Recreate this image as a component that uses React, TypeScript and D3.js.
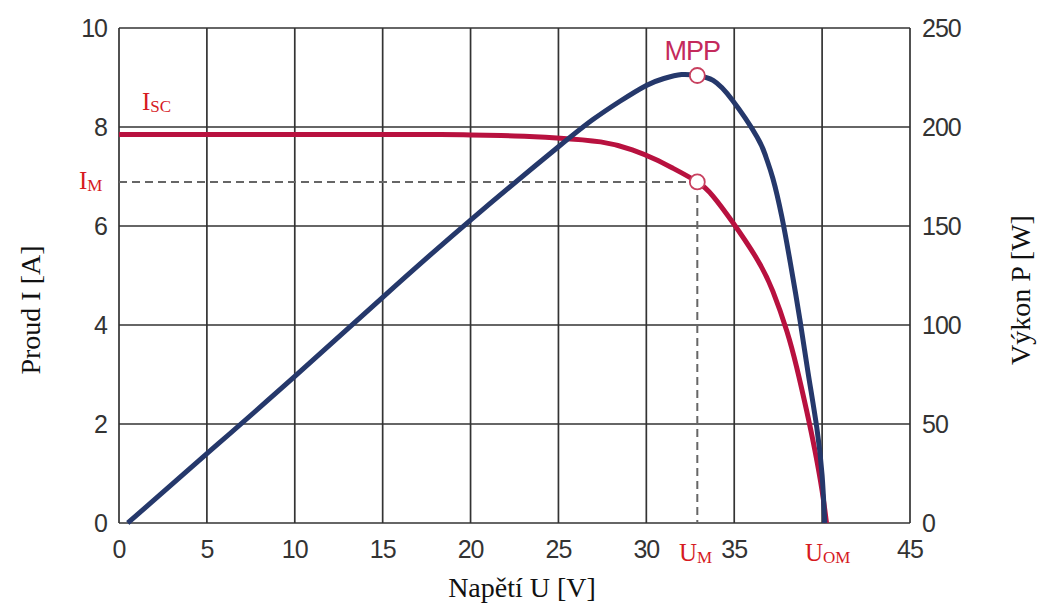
import React, { useRef, useEffect } from 'react';
import * as d3 from 'd3';

// I-U curve (current, A)
const voltageI = [0, 5, 10, 15, 18.3, 20, 22.5, 24.9, 27.4, 29.2, 30.5, 31.5, 32.9, 33.8, 34.9, 36.3, 37.2, 38.0, 38.55, 39.1, 39.6, 40.0, 40.25];
const current = [7.85, 7.85, 7.85, 7.85, 7.85, 7.84, 7.82, 7.78, 7.7, 7.54, 7.35, 7.17, 6.89, 6.6, 6.08, 5.33, 4.68, 3.87, 3.15, 2.3, 1.45, 0.65, 0];

// P-U curve (power, W)
const voltageP = [0.5, 5, 10, 15, 20, 25, 27, 28.5, 30, 31, 32, 32.9, 33.8, 34.9, 36.3, 36.8, 37.2, 37.7, 38.2, 38.75, 39.2, 39.7, 40.0, 40.15];
const power = [0, 35, 74, 114, 153, 190, 204, 213, 221, 224.5, 226.5, 226, 223.5, 213.5, 195, 185, 174, 155, 131, 102, 76, 48, 24, 0];

const xTicks = [0, 5, 10, 15, 20, 25, 30, 35, 40, 45];
const xTickLabels = ['0', '5', '10', '15', '20', '25', '30', '35', '', '45'];
const yTicks = [0, 2, 4, 6, 8, 10];
const pTicks = [0, 50, 100, 150, 200, 250];

const mppVoltage = 32.9;
const mppCurrent = 6.89;
const mppPower = 226;

const App = () => {
  const ref = useRef<SVGSVGElement | null>(null);

  useEffect(() => {
    const svg = d3.select(ref.current);
    svg.selectAll('*').remove();

    const left = 119, right = 910, top = 28, bottom = 523;
    const x = d3.scaleLinear().domain([0, 45]).range([left, right]);
    const y = d3.scaleLinear().domain([0, 10]).range([bottom, top]);
    const yP = d3.scaleLinear().domain([0, 250]).range([bottom, top]);

    const sans = 'Liberation Sans, Arial, sans-serif';
    const serif = 'Liberation Serif, Times New Roman, serif';
    const gridColor = '#333';
    const red = '#b8113f';
    const blue = '#25386b';
    const labelRed = '#d61a1f';

    // grid
    const g = svg.append('g');
    g.selectAll('line.v').data(xTicks).join('line')
      .attr('x1', d => x(d)).attr('x2', d => x(d))
      .attr('y1', top).attr('y2', bottom)
      .attr('stroke', gridColor).attr('stroke-width', 1.7);
    g.selectAll('line.h').data(yTicks).join('line')
      .attr('x1', left).attr('x2', right)
      .attr('y1', d => y(d)).attr('y2', d => y(d))
      .attr('stroke', gridColor).attr('stroke-width', 1.7);

    // tick labels
    svg.append('g').selectAll('text').data(yTicks).join('text')
      .attr('x', left - 12).attr('y', d => y(d)).attr('dy', '0.36em')
      .attr('text-anchor', 'end')
      .attr('font-family', sans).attr('font-size', 25).attr('letter-spacing', -1)
      .attr('fill', '#333').text(d => d);

    svg.append('g').selectAll('text').data(pTicks).join('text')
      .attr('x', right + 12).attr('y', d => yP(d)).attr('dy', '0.36em')
      .attr('text-anchor', 'start')
      .attr('font-family', sans).attr('font-size', 25).attr('letter-spacing', -1)
      .attr('fill', '#333').text(d => d);

    svg.append('g').selectAll('text').data(xTicks).join('text')
      .attr('x', d => x(d)).attr('y', bottom + 35)
      .attr('text-anchor', 'middle')
      .attr('font-family', sans).attr('font-size', 25).attr('letter-spacing', -1)
      .attr('fill', '#333').text((d, i) => xTickLabels[i]);

    // axis titles
    svg.append('text')
      .attr('x', 522).attr('y', 597).attr('text-anchor', 'middle')
      .attr('font-family', serif).attr('font-size', 28).attr('fill', '#111')
      .text('Napětí U [V]');
    svg.append('text')
      .attr('transform', 'translate(40,310) rotate(-90)').attr('text-anchor', 'middle')
      .attr('font-family', serif).attr('font-size', 28).attr('fill', '#111')
      .text('Proud I [A]');
    svg.append('text')
      .attr('transform', 'translate(1030,290) rotate(-90)').attr('text-anchor', 'middle')
      .attr('font-family', serif).attr('font-size', 28).attr('fill', '#111')
      .text('Výkon P [W]');

    // dashed guides at MPP
    svg.append('line')
      .attr('x1', x(0)).attr('x2', x(mppVoltage))
      .attr('y1', y(mppCurrent)).attr('y2', y(mppCurrent))
      .attr('stroke', '#666').attr('stroke-width', 2).attr('stroke-dasharray', '8,5');
    svg.append('line')
      .attr('x1', x(mppVoltage)).attr('x2', x(mppVoltage))
      .attr('y1', y(mppCurrent)).attr('y2', y(0))
      .attr('stroke', '#666').attr('stroke-width', 2).attr('stroke-dasharray', '8,5');

    // curves
    const lineI = d3.line<number>()
      .x((d, i) => x(voltageI[i]))
      .y(d => y(d))
      .curve(d3.curveNatural);
    svg.append('path')
      .datum(current)
      .attr('fill', 'none').attr('stroke', red).attr('stroke-width', 5)
      .attr('d', lineI);

    const lineP = d3.line<number>()
      .x((d, i) => x(voltageP[i]))
      .y(d => yP(d))
      .curve(d3.curveNatural);
    svg.append('path')
      .datum(power)
      .attr('fill', 'none').attr('stroke', blue).attr('stroke-width', 5)
      .attr('d', lineP);

    // MPP markers
    svg.append('circle')
      .attr('cx', x(mppVoltage)).attr('cy', yP(mppPower)).attr('r', 7.5)
      .attr('fill', '#fff').attr('stroke', '#c8405f').attr('stroke-width', 1.8);
    svg.append('circle')
      .attr('cx', x(mppVoltage)).attr('cy', y(mppCurrent)).attr('r', 7.5)
      .attr('fill', '#fff').attr('stroke', '#c8405f').attr('stroke-width', 1.8);

    svg.append('text')
      .attr('x', x(mppVoltage) - 5).attr('y', 60).attr('text-anchor', 'middle')
      .attr('font-family', sans).attr('font-size', 27).attr('letter-spacing', -1)
      .attr('fill', '#c42a5c').text('MPP');

    // red annotation labels
    const sub = (tx: number, ty: number, main: string, s: string) => {
      const t = svg.append('text')
        .attr('x', tx).attr('y', ty)
        .attr('font-family', serif).attr('fill', labelRed);
      t.append('tspan').attr('font-size', 25).text(main);
      t.append('tspan').attr('font-size', 17).attr('dy', 2).text(s);
    };
    sub(142, 110, 'I', 'SC');
    sub(79, 189, 'I', 'M');
    sub(679, 561, 'U', 'M');
    sub(805, 561, 'U', 'OM');
  }, []);

  return (
    <svg
      ref={ref}
      width={1045}
      height={608}
      style={{ position: 'absolute', left: 0, top: 0, background: '#fff' }}
    />
  );
};

export default App;
